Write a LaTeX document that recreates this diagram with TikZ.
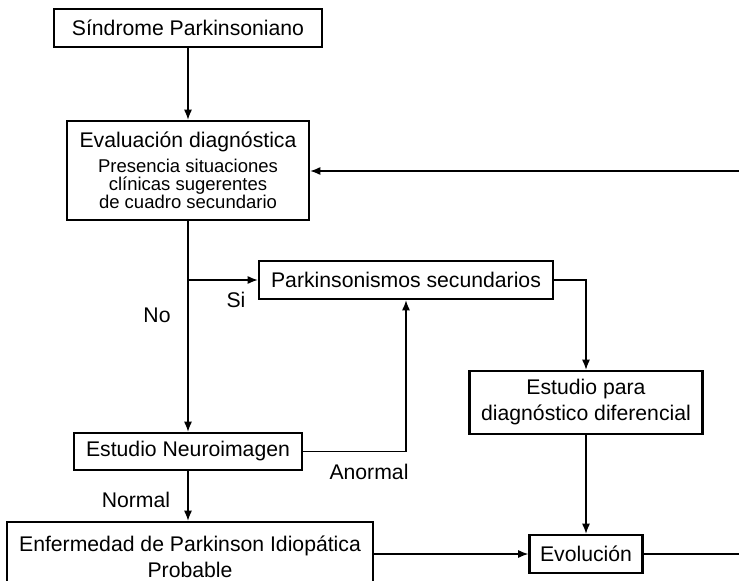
\documentclass[tikz,border=0pt]{standalone}
\usepackage{fontspec}
\setmainfont{Liberation Sans}
\usetikzlibrary{arrows.meta}
\begin{document}
\begin{tikzpicture}[x=1pt,y=-1pt,
  box/.style={draw, line width=2.6pt, inner sep=0pt, align=center,
              font=\fontsize{21.2}{26}\selectfont},
  conn/.style={line width=1.2pt},
  arr/.style={conn, -{Latex[length=10pt,width=8pt]}},
  lbl/.style={font=\fontsize{21.2}{26}\selectfont, inner sep=0pt}]
\useasboundingbox (0,0) rectangle (739,581);

% boxes
\node[box, minimum width=268pt, minimum height=38pt] (sind) at (188,28) {Síndrome Parkinsoniano};
\node[box, minimum width=242pt, minimum height=99pt, font=\fontsize{18.5}{18}\selectfont] (eval) at (188,170.5)
  {{\fontsize{21.2}{18}\selectfont Evaluación diagnóstica}\\[7pt]
   Presencia situaciones\\
   clínicas sugerentes\\
   de cuadro secundario};
\node[box, minimum width=294pt, minimum height=38pt] (park) at (406,280) {Parkinsonismos secundarios};
\node[box, minimum width=233pt, minimum height=63pt] (estp) at (586,402.5) {Estudio para\\diagnóstico diferencial};
\node[box, minimum width=228pt, minimum height=37pt] (neuro) at (188,451.5) {Estudio Neuroimagen};
\node[box, minimum width=366pt, minimum height=70pt] (enf) at (190,557) {Enfermedad de Parkinson Idiopática\\Probable};
\node[box, minimum width=113pt, minimum height=38pt] (evo) at (586,554) {Evolución};

% loose ends at the right margin
\coordinate (back) at (739,171);
\coordinate (onward) at (739,554);

% connectors
\draw[arr] (sind.south) -- (eval.north);
\draw[arr] (back) -- (eval.east |- back);
\draw[arr] (eval.south) -- (neuro.north);
\draw[arr] (eval.south |- park.west) -- (park.west);
\draw[arr] (park.east) -| (estp.north);
\draw[arr] (neuro.east) -| (park.south);
\draw[arr] (neuro.south) -- (neuro.south |- enf.north);
\draw[arr] (estp.south) -- (evo.north);
\draw[arr] (enf.east |- evo.west) -- (evo.west);
\draw[conn] (evo.east) -- (onward);

% branch labels
\node[lbl] (no) at (157,315) {No};
\node[lbl] (si) at (236,300) {Si};
\node[lbl] (normal) at (136,500) {Normal};
\node[lbl] (anormal) at (369,472) {Anormal};
\end{tikzpicture}
\end{document}
